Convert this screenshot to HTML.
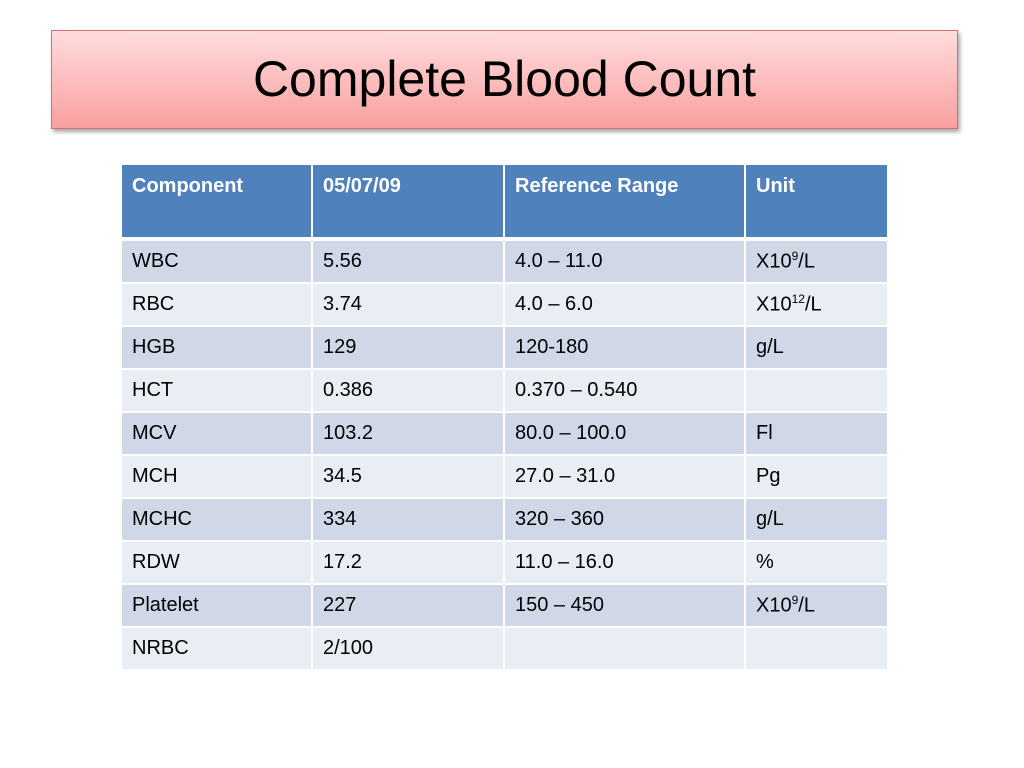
<!DOCTYPE html>
<html><head><meta charset="utf-8"><style>
body{margin:0;width:1024px;height:768px;background:#fff;position:relative;font-family:"Liberation Sans",sans-serif;overflow:hidden}
#title{position:absolute;left:51px;top:30px;width:905px;height:97px;border:1px solid #d07070;background:linear-gradient(#ffdcdc,#f9a0a0);box-shadow:2px 3px 4px rgba(0,0,0,0.35);text-align:center;line-height:97px;font-size:50px;color:#000}
table{position:absolute;left:120px;top:163px;border-collapse:collapse;table-layout:fixed}
td{border:2px solid #fff;font-size:20px;padding:0 10px;color:#000;height:41px;vertical-align:middle}
tr.h td{background:#4f81bd;color:#fff;font-weight:bold;vertical-align:top;padding-top:10px;height:62px;border-bottom:4px solid #fff}
tr.a td{background:#d0d8e8}
tr.b td{background:#e9edf4}
sup{font-size:12px}
</style></head><body>
<div id="title">Complete Blood Count</div>
<table>
<colgroup><col style="width:191px"><col style="width:192px"><col style="width:241px"><col style="width:143px"></colgroup>
<tr class="h"><td>Component</td><td>05/07/09</td><td>Reference Range</td><td>Unit</td></tr>
<tr class="a"><td>WBC</td><td>5.56</td><td>4.0 – 11.0</td><td>X10<sup>9</sup>/L</td></tr>
<tr class="b"><td>RBC</td><td>3.74</td><td>4.0 – 6.0</td><td>X10<sup>12</sup>/L</td></tr>
<tr class="a"><td>HGB</td><td>129</td><td>120-180</td><td>g/L</td></tr>
<tr class="b"><td>HCT</td><td>0.386</td><td>0.370 – 0.540</td><td></td></tr>
<tr class="a"><td>MCV</td><td>103.2</td><td>80.0 – 100.0</td><td>Fl</td></tr>
<tr class="b"><td>MCH</td><td>34.5</td><td>27.0 – 31.0</td><td>Pg</td></tr>
<tr class="a"><td>MCHC</td><td>334</td><td>320 – 360</td><td>g/L</td></tr>
<tr class="b"><td>RDW</td><td>17.2</td><td>11.0 – 16.0</td><td>%</td></tr>
<tr class="a"><td>Platelet</td><td>227</td><td>150 – 450</td><td>X10<sup>9</sup>/L</td></tr>
<tr class="b"><td>NRBC</td><td>2/100</td><td></td><td></td></tr>
</table>
</body></html>
